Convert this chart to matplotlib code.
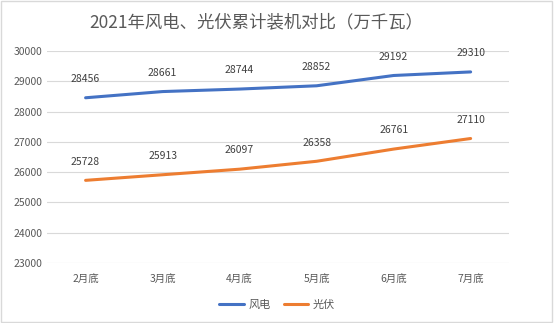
import matplotlib.pyplot as plt
from matplotlib.patches import Rectangle

plt.rcParams['font.family'] = ['Noto Sans CJK SC', 'DejaVu Sans']

months = ["2月底", "3月底", "4月底", "5月底", "6月底", "7月底"]
wind = [28456, 28661, 28744, 28852, 29192, 29310]
solar = [25728, 25913, 26097, 26358, 26761, 27110]

txt = '#595959'
fig = plt.figure(figsize=(5.54, 3.23), dpi=100)
ax = fig.add_axes([0.085, 0.186, 0.834, 0.656])

x = range(len(months))
ax.plot(x, wind, color='#4472C4', lw=2.2, label='风电', solid_capstyle='round')
ax.plot(x, solar, color='#ED7D31', lw=2.2, label='光伏', solid_capstyle='round')
for i in x:
    ax.text(i, wind[i] + 620, str(wind[i]), ha='center', va='center', fontsize=7.5, color='#404040')
    ax.text(i, solar[i] + 620, str(solar[i]), ha='center', va='center', fontsize=7.5, color='#404040')

ax.set_xlim(-0.5, len(months) - 0.5)
ax.set_ylim(23000, 30000)
ax.set_yticks(range(23000, 30001, 1000))
ax.set_xticks(list(x))
ax.set_xticklabels(months)
ax.tick_params(length=0, labelsize=7.5, colors=txt)
ax.tick_params(axis='x', pad=8)
ax.grid(axis='y', color='#D9D9D9', lw=0.8)
ax.set_axisbelow(True)
for s in ax.spines.values():
    s.set_visible(False)

fig.text(0.462, 0.93, "2021年风电、光伏累计装机对比（万千瓦）", ha='center', va='center',
         fontsize=12.5, color=txt)
fig.legend(loc='center', bbox_to_anchor=(0.5, 0.055), ncol=2, frameon=False,
           fontsize=8, labelcolor=txt, handlelength=2.2, columnspacing=1.2, handletextpad=0.4)

fig.patches.append(Rectangle((0.002, 0.003), 0.995, 0.994, transform=fig.transFigure,
                             fill=False, edgecolor='#D9D9D9', lw=1))
fig.savefig('out.png', dpi=100)
